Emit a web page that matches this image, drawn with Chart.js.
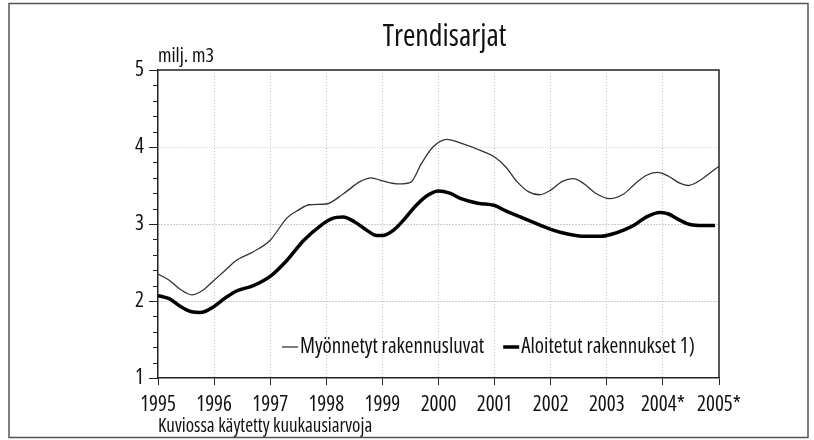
<!DOCTYPE html>
<html>
<head>
<meta charset="utf-8">
<script src="https://cdn.jsdelivr.net/npm/chart.js"></script>
<style>
html, body { margin: 0; padding: 0; background: #fff; }
#wrap { width: 814px; height: 440px; }
</style>
</head>
<body>
<div id="wrap"><canvas id="chart" width="814" height="440"></canvas></div>
<script>
const FONT = '"Open Sans", "Liberation Sans", sans-serif';

// Texts
const chartTitle = 'Trendisarjat';
const unitLabel = 'milj. m3';
const footNote = 'Kuviossa käytetty kuukausiarvoja';

// X axis: years, the last two are preliminary
const yearTicks = [1995, 1996, 1997, 1998, 1999, 2000, 2001, 2002, 2003, 2004, 2005];
const yearLabels = ['1995', '1996', '1997', '1998', '1999', '2000', '2001', '2002', '2003', '2004*', '2005*'];

// Myönnetyt rakennusluvat (thin line)
const permitsLabel = 'Myönnetyt rakennusluvat';
const permitsYears = [1995.0, 1995.2, 1995.4, 1995.6, 1995.8, 1996.0, 1996.2, 1996.4, 1996.7, 1997.0,
    1997.3, 1997.5, 1997.7, 1998.0, 1998.3, 1998.6, 1998.8, 1999.0, 1999.3, 1999.5,
    1999.7, 1999.9, 2000.15, 2000.4, 2000.8, 2001.0, 2001.2, 2001.4, 2001.6, 2001.8,
    2002.0, 2002.2, 2002.4, 2002.6, 2002.8, 2003.05, 2003.3, 2003.5, 2003.7, 2003.9,
    2004.1, 2004.3, 2004.45, 2004.6, 2004.8, 2005.0];
const permitsValues = [2.35, 2.27, 2.15, 2.08, 2.14, 2.27, 2.40, 2.53, 2.64, 2.79,
    3.08, 3.18, 3.25, 3.26, 3.39, 3.55, 3.60, 3.56, 3.52, 3.54,
    3.79, 4.00, 4.10, 4.05, 3.94, 3.87, 3.74, 3.55, 3.42, 3.38,
    3.44, 3.55, 3.59, 3.52, 3.40, 3.33, 3.39, 3.52, 3.63, 3.67,
    3.62, 3.53, 3.50, 3.54, 3.64, 3.75];

// Aloitetut rakennukset 1) (thick line)
const startsLabel = 'Aloitetut rakennukset 1)';
const startsYears = [1995.0, 1995.2, 1995.4, 1995.6, 1995.75, 1996.0, 1996.2, 1996.4, 1996.7, 1997.0,
    1997.3, 1997.6, 1997.9, 1998.1, 1998.3, 1998.5, 1998.7, 1998.9, 1999.0, 1999.2,
    1999.4, 1999.6, 1999.8, 2000.0, 2000.2, 2000.4, 2000.7, 2001.0, 2001.2, 2001.5,
    2001.8, 2002.0, 2002.3, 2002.6, 2002.9, 2003.1, 2003.3, 2003.5, 2003.7, 2003.95,
    2004.1, 2004.3, 2004.5, 2004.7, 2004.93];
const startsValues = [2.07, 2.03, 1.93, 1.86, 1.85, 1.93, 2.04, 2.13, 2.20, 2.32,
    2.53, 2.79, 2.98, 3.07, 3.09, 3.03, 2.93, 2.85, 2.85, 2.92,
    3.07, 3.24, 3.37, 3.43, 3.40, 3.33, 3.27, 3.24, 3.17, 3.08,
    2.99, 2.93, 2.87, 2.84, 2.84, 2.87, 2.92, 2.99, 3.09, 3.15,
    3.13, 3.05, 2.99, 2.98, 2.98];

const toPoints = (xs, ys) => xs.map((x, i) => ({ x: x, y: ys[i] }));
// narrow look: Open Sans condensed face, picked through the font-stretch keyword
const fontStr = size => 'condensed ' + size + 'px ' + FONT;

// Extra drawing: plot frame, minor ticks, title, legend, notes, outer frame
const decorPlugin = {
    id: 'decor',
    afterDraw(chart) {
        const ctx = chart.ctx;
        const area = chart.chartArea;
        const yScale = chart.scales.y;
        ctx.save();

        // top and right edges of plot
        ctx.strokeStyle = '#222';
        ctx.lineWidth = 1.5;
        ctx.beginPath();
        ctx.moveTo(area.left, area.top);
        ctx.lineTo(area.right, area.top);
        ctx.lineTo(area.right, area.bottom);
        ctx.stroke();

        // minor ticks on y axis every 0.2
        ctx.lineWidth = 1;
        ctx.beginPath();
        for (let v = 1.2; v < 5; v += 0.2) {
            if (Math.abs(v - Math.round(v)) < 0.01) continue;
            const py = Math.round(yScale.getPixelForValue(v)) + 0.5;
            ctx.moveTo(area.left - 5, py);
            ctx.lineTo(area.left, py);
        }
        ctx.stroke();

        ctx.fillStyle = '#111';
        ctx.textBaseline = 'middle';

        // title
        ctx.font = fontStr(30);
        ctx.textAlign = 'center';
        ctx.fillText(chartTitle, (area.left + area.right) / 2 + 6, 37);

        // unit label
        ctx.font = fontStr(20);
        ctx.textAlign = 'left';
        ctx.fillText(unitLabel, area.left, 56);

        // footnote
        ctx.font = fontStr(19);
        ctx.fillText(footNote, area.left, 427);

        // legend inside the plot
        ctx.font = fontStr(21);
        let lx = 282;
        const ly = 347;
        chart.data.datasets.forEach((ds) => {
            ctx.strokeStyle = ds.borderColor;
            ctx.lineWidth = ds.borderWidth;
            ctx.beginPath();
            ctx.moveTo(lx, ly);
            ctx.lineTo(lx + 16, ly);
            ctx.stroke();
            lx += 18;
            ctx.fillText(ds.label, lx, ly);
            lx += ctx.measureText(ds.label).width + 19;
        });

        // outer frame
        ctx.strokeStyle = '#555';
        ctx.lineWidth = 1.5;
        ctx.strokeRect(9, 3.5, 799, 434);

        ctx.restore();
    }
};

new Chart(document.getElementById('chart').getContext('2d'), {
    type: 'line',
    data: {
        datasets: [{
            label: permitsLabel,
            data: toPoints(permitsYears, permitsValues),
            borderColor: '#333',
            borderWidth: 1.3,
            pointRadius: 0,
            cubicInterpolationMode: 'monotone',
            fill: false
        }, {
            label: startsLabel,
            data: toPoints(startsYears, startsValues),
            borderColor: '#000',
            borderWidth: 3.5,
            pointRadius: 0,
            cubicInterpolationMode: 'monotone',
            fill: false
        }]
    },
    options: {
        responsive: false,
        animation: false,
        events: [],
        layout: { padding: { top: 70, right: 95, left: 0, bottom: 0 } },
        plugins: {
            legend: { display: false },
            title: { display: false },
            tooltip: { enabled: false }
        },
        scales: {
            x: {
                type: 'linear',
                min: 1995,
                max: 2005,
                afterFit: scale => { scale.height = 62; },
                afterBuildTicks: scale => { scale.ticks = yearTicks.map(v => ({ value: v })); },
                ticks: {
                    autoSkip: false,
                    maxRotation: 0,
                    padding: 7,
                    color: '#111',
                    // weight slot carries the stretch keyword into the font string
                    font: { family: FONT, size: 21, weight: 'condensed' },
                    callback: (value) => yearLabels[yearTicks.indexOf(value)]
                },
                grid: {
                    color: c => (c.tick && (c.tick.value === 1995 || c.tick.value === 2005)) ? 'rgba(0,0,0,0)' : '#bdbdbd',
                    lineWidth: 1,
                    tickLength: 7,
                    tickColor: '#222'
                },
                border: { color: '#222', width: 1.5, dash: [1, 2] }
            },
            y: {
                min: 1,
                max: 5,
                afterFit: scale => { scale.width = 158; },
                ticks: {
                    stepSize: 1,
                    padding: 5,
                    color: '#111',
                    font: { family: FONT, size: 21, weight: 'condensed' }
                },
                grid: {
                    color: c => (c.tick && (c.tick.value === 1 || c.tick.value === 5)) ? 'rgba(0,0,0,0)' : (c.tick && c.tick.value === 4 ? '#c8c8c8' : '#9a9a9a'),
                    lineWidth: 1,
                    tickLength: 9,
                    tickColor: '#222'
                },
                border: { color: '#222', width: 1.5, dash: [1, 2] }
            }
        }
    },
    plugins: [decorPlugin]
});
</script>
</body>
</html>
